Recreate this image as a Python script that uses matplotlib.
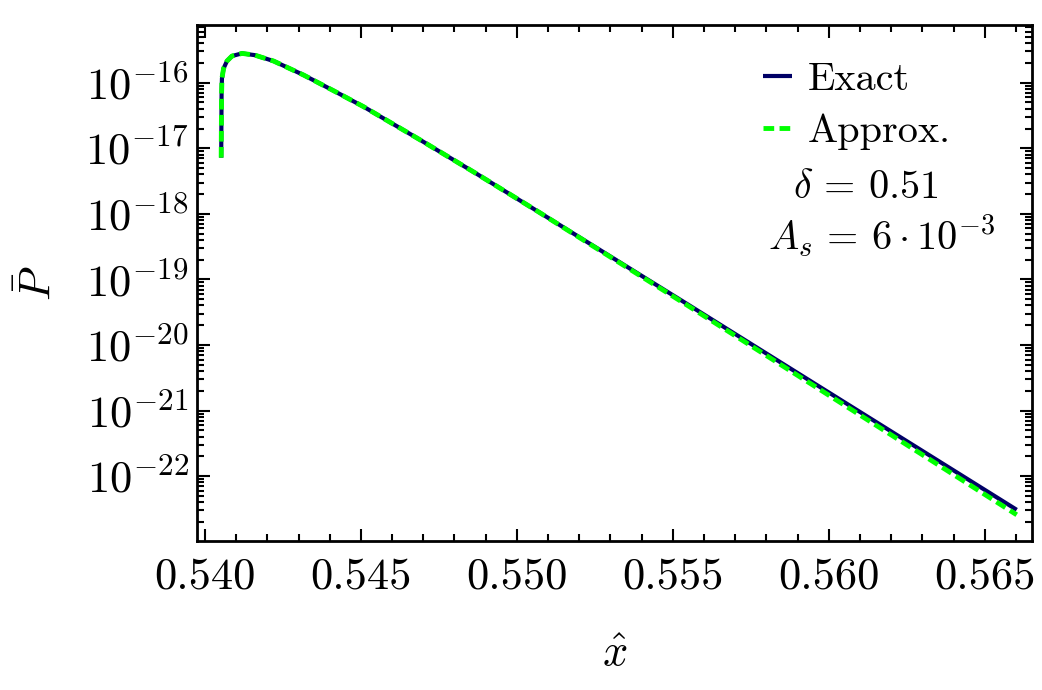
import numpy as np
import matplotlib
matplotlib.use("Agg")
import matplotlib.pyplot as plt
from matplotlib.ticker import FormatStrFormatter, MultipleLocator, LogLocator, FuncFormatter, FixedLocator

plt.rcParams['font.family'] = 'serif'
plt.rcParams['font.serif'] = ['cmr10', 'DejaVu Serif']
plt.rcParams['mathtext.fontset'] = 'cm'
plt.rcParams['axes.formatter.use_mathtext'] = True

# values (x_hat, P_bar)
x_exact = [0.540520, 0.540532, 0.540544, 0.540596, 0.540705, 0.540865, 0.541186,
           0.541600, 0.542199, 0.543160, 0.544122, 0.545083, 0.546901, 0.548718,
           0.550641, 0.555449, 0.560788, 0.566026]
p_exact = [7.19e-18, 6.87e-17, 1.16e-16, 1.65e-16, 2.14e-16, 2.55e-16, 2.80e-16,
           2.63e-16, 2.14e-16, 1.31e-16, 7.55e-17, 4.31e-17, 1.34e-17, 4.06e-18,
           1.11e-18, 4.24e-20, 1.10e-21, 3.06e-23]

x_approx = x_exact
p_approx = [7.19e-18, 6.87e-17, 1.16e-16, 1.65e-16, 2.14e-16, 2.55e-16, 2.80e-16,
            2.63e-16, 2.14e-16, 1.31e-16, 7.55e-17, 4.31e-17, 1.34e-17, 4.06e-18,
            1.11e-18, 4.07e-20, 9.9e-22, 2.57e-23]

y_exponents = [-22, -21, -20, -19, -18, -17, -16]

fig = plt.figure(figsize=(10.42, 6.9), dpi=100)
ax = fig.add_axes([197/1042, 149/690, 835/1042, 516/690])

ax.semilogy(x_exact, p_exact, color='#000066', lw=3.0, label='Exact', solid_capstyle='butt')
ax.semilogy(x_approx, p_approx, color='#00ff00', lw=3.5, dashes=(2.2, 1.1), label='Approx.')

ax.set_xlim(0.539744, 0.566516)
ax.set_ylim(10**-22.99, 10**-15.12)

ax.xaxis.set_major_locator(MultipleLocator(0.005))
ax.xaxis.set_minor_locator(MultipleLocator(0.001))
ax.xaxis.set_major_formatter(FormatStrFormatter('%.3f'))
ax.yaxis.set_major_locator(FixedLocator([10.0**e for e in y_exponents]))
ax.yaxis.set_minor_locator(LogLocator(base=10, subs=np.arange(2, 10), numticks=20))
ax.yaxis.set_major_formatter(FuncFormatter(lambda v, pos: r'$10^{%d}$' % round(np.log10(v))))

ax.tick_params(which='both', direction='in', top=True, right=True, width=1.5, labelsize=32)
ax.tick_params(axis='x', pad=12)
ax.tick_params(axis='y', pad=6)
ax.tick_params(which='major', length=9)
ax.tick_params(which='minor', length=5)
for s in ax.spines.values():
    s.set_linewidth(2)

ax.legend(loc='upper left', bbox_to_anchor=(0.678, 0.928), frameon=False, fontsize=29,
          handlelength=0.72, handletextpad=0.4, labelspacing=0.38, borderpad=0, borderaxespad=0)

fig.text(866/1042, 1 - 198/690, r'$\delta \,=\, 0.51$', fontsize=29, ha='center', va='baseline')
fig.text(882/1042, 1 - 250/690, r'$A_s \,=\, 6\cdot 10^{-3}$', fontsize=29, ha='center', va='baseline')

fig.text(615/1042, 1 - 655/690, r'$\hat{x}$', fontsize=32, ha='center', va='center')
fig.text(40/1042, 1 - 283/690, r'$\bar{P}$', fontsize=32, ha='center', va='center', rotation=90)

fig.savefig('out.png', dpi=100)
